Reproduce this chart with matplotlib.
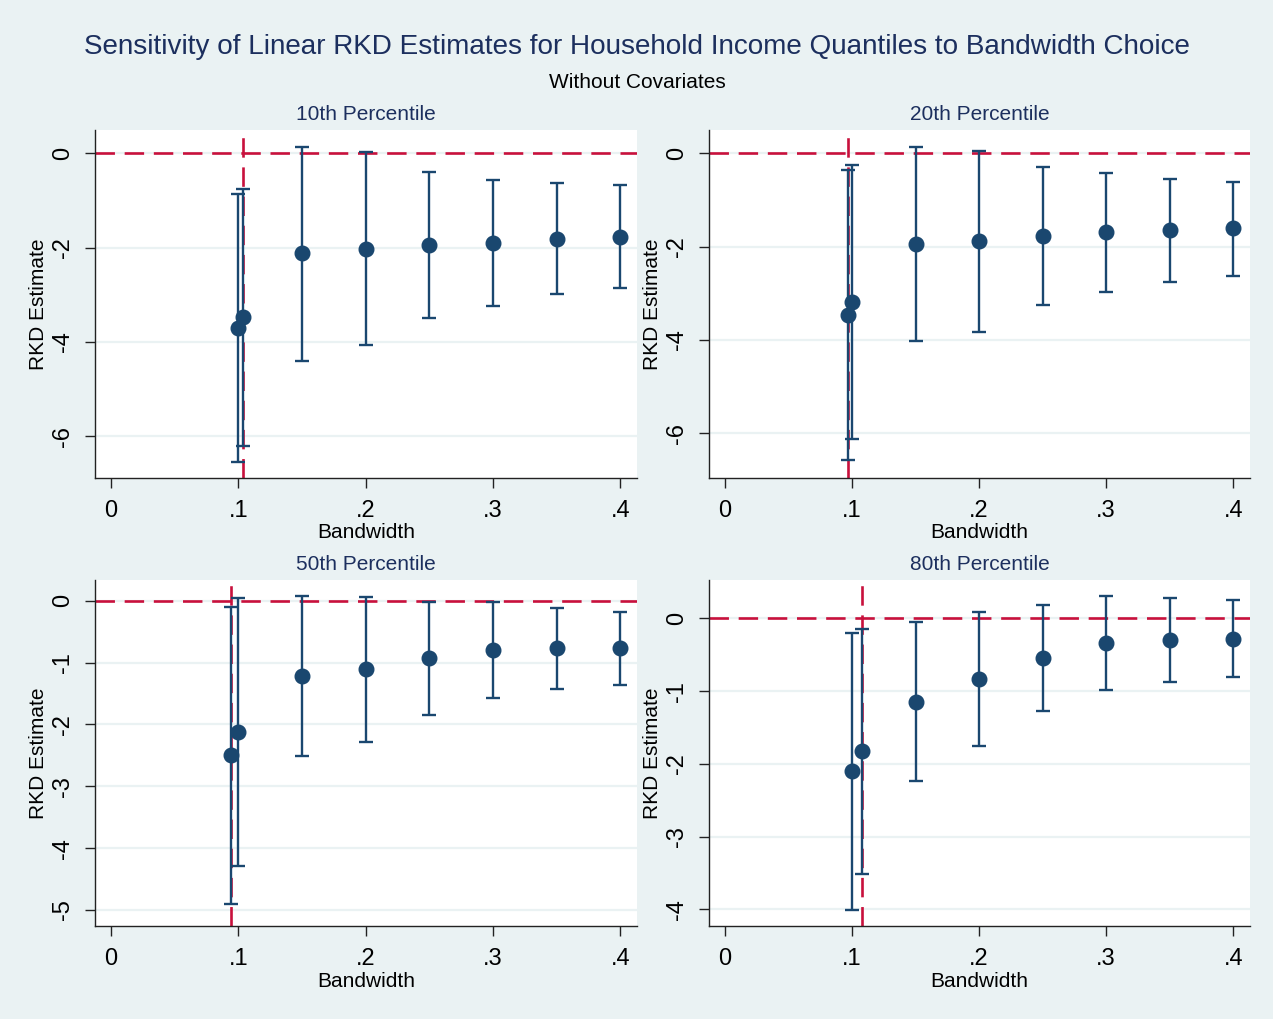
import matplotlib
matplotlib.use("Agg")
import matplotlib.pyplot as plt
import numpy as np

plt.rcParams['font.family'] = ['Liberation Sans', 'DejaVu Sans']
plt.rcParams['lines.scale_dashes'] = False

# ---------------- data ----------------
panel_titles = ["10th Percentile", "20th Percentile", "50th Percentile", "80th Percentile"]

# optimal bandwidths (red vertical lines)
opt_bw = [0.1034, 0.0967, 0.0943, 0.1079]

bw_p10 = [0.1, 0.1034, 0.15, 0.2, 0.25, 0.3, 0.35, 0.4]
est_p10 = [-3.70, -3.48, -2.12, -2.02, -1.95, -1.90, -1.81, -1.77]
lo_p10 = [-6.55, -6.21, -4.40, -4.07, -3.50, -3.24, -2.99, -2.86]
hi_p10 = [-0.86, -0.75, 0.14, 0.03, -0.39, -0.57, -0.62, -0.67]

bw_p20 = [0.0967, 0.1, 0.15, 0.2, 0.25, 0.3, 0.35, 0.4]
est_p20 = [-3.46, -3.18, -1.94, -1.89, -1.77, -1.69, -1.64, -1.61]
lo_p20 = [-6.58, -6.12, -4.03, -3.83, -3.26, -2.97, -2.75, -2.62]
hi_p20 = [-0.35, -0.25, 0.14, 0.04, -0.30, -0.43, -0.54, -0.61]

bw_p50 = [0.0943, 0.1, 0.15, 0.2, 0.25, 0.3, 0.35, 0.4]
est_p50 = [-2.50, -2.13, -1.22, -1.11, -0.93, -0.80, -0.77, -0.77]
lo_p50 = [-4.90, -4.29, -2.51, -2.29, -1.84, -1.58, -1.43, -1.36]
hi_p50 = [-0.10, 0.04, 0.08, 0.06, -0.02, -0.02, -0.11, -0.18]

bw_p80 = [0.1, 0.1079, 0.15, 0.2, 0.25, 0.3, 0.35, 0.4]
est_p80 = [-2.10, -1.83, -1.15, -0.83, -0.54, -0.34, -0.30, -0.28]
lo_p80 = [-4.01, -3.52, -2.24, -1.75, -1.28, -0.99, -0.87, -0.80]
hi_p80 = [-0.20, -0.15, -0.05, 0.09, 0.19, 0.31, 0.28, 0.25]

x_ticks = [0, 0.1, 0.2, 0.3, 0.4]
x_ticklabels = ["0", ".1", ".2", ".3", ".4"]
y_ticks = [[0, -2, -4, -6], [0, -2, -4, -6], [0, -1, -2, -3, -4, -5], [0, -1, -2, -3, -4]]
y_lims = [(-6.88, 0.495), (-6.95, 0.50), (-5.26, 0.335), (-4.23, 0.527)]

panels = [
    (bw_p10, est_p10, lo_p10, hi_p10),
    (bw_p20, est_p20, lo_p20, hi_p20),
    (bw_p50, est_p50, lo_p50, hi_p50),
    (bw_p80, est_p80, lo_p80, hi_p80),
]

# ---------------- style ----------------
BG = "#EAF2F3"
NAVY = "#1a476f"
RED = "#c8103c"
TITLE_C = "#1c2f5e"

W, H = 1273, 1019
fig = plt.figure(figsize=(W / 100, H / 100), dpi=100, facecolor=BG)

# axes rectangles in pixels: (left, top, right, bottom)
rects = [(95, 130, 637, 477.5), (709, 130, 1250, 477.5),
         (95, 580, 637, 926), (709, 580, 1250, 926)]

fig.text(637 / W, 1 - 47.5 / H, "Sensitivity of Linear RKD Estimates for Household Income Quantiles to Bandwidth Choice",
         ha="center", va="center", fontsize=20.1, color=TITLE_C)
fig.text(637 / W, 1 - 82.5 / H, "Without Covariates", ha="center", va="center", fontsize=15, color="black")

for i, (l, t, r, b) in enumerate(rects):
    ax = fig.add_axes([l / W, 1 - b / H, (r - l) / W, (b - t) / H])
    ax.set_facecolor("white")
    bw, est, lo, hi = panels[i]
    bw = np.array(bw); est = np.array(est); lo = np.array(lo); hi = np.array(hi)

    for yt in y_ticks[i]:
        ax.axhline(yt, color=BG, lw=1.6, zorder=1)
    ax.axhline(0, color=RED, lw=1.9, dashes=(14, 7), zorder=2)
    ax.axvline(opt_bw[i], color=RED, lw=1.9, dashes=(14, 7), zorder=2)

    ax.errorbar(bw, est, yerr=[est - lo, hi - est], fmt="o", color=NAVY, ecolor=NAVY,
                elinewidth=1.7, capsize=4.7, capthick=1.7, markersize=10.5, zorder=3)

    ax.set_xlim(-0.0126, 0.4132)
    ax.set_ylim(*y_lims[i])
    ax.set_xticks(x_ticks)
    ax.set_xticklabels(x_ticklabels)
    ax.set_yticks(y_ticks[i])
    ax.set_yticklabels([str(v) for v in y_ticks[i]], rotation=90, va="center")
    ax.tick_params(axis="both", labelsize=17, length=7, width=1, color="#222222", direction="out")
    ax.tick_params(axis="x", pad=9)
    ax.tick_params(axis="y", pad=8)
    for s in ["top", "right"]:
        ax.spines[s].set_visible(False)
    for s in ["left", "bottom"]:
        ax.spines[s].set_linewidth(1.0)
        ax.spines[s].set_color("#222222")

    ax.set_xlabel("Bandwidth", fontsize=15, labelpad=1)
    ax.set_ylabel("RKD Estimate", fontsize=15, labelpad=3)
    fig.text((l + r) / 2 / W, 1 - (t - 15.5) / H, panel_titles[i], ha="center", va="center",
             fontsize=15, color=TITLE_C)

fig.savefig("out.png", dpi=100, facecolor=BG)
